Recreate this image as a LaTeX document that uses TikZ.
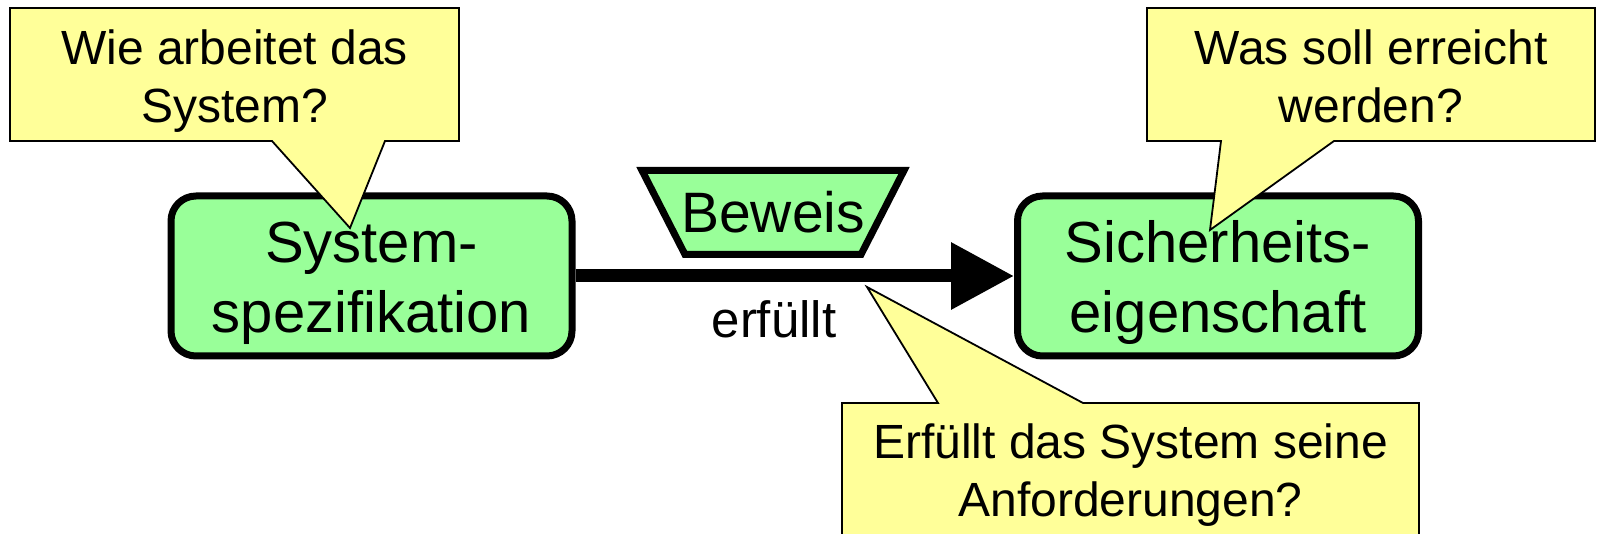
\documentclass[tikz,border=0pt]{standalone}
\usepackage{fontspec}
\setmainfont{Liberation Sans}
\usetikzlibrary{arrows.meta}
\definecolor{boxgreen}{HTML}{99FF99}
\definecolor{calloutyellow}{HTML}{FFFF99}
\begin{document}
\begin{tikzpicture}[x=1pt,y=-1pt,
  mainbox/.style={draw=black, fill=boxgreen, line width=7pt, rounded corners=25pt,
    minimum width=401pt, minimum height=160pt, inner sep=0pt},
  boxtext/.style={align=center, inner sep=0pt, font=\fontsize{58}{70}\selectfont},
  callout/.style={draw=black, fill=calloutyellow, line width=1.8pt, line join=miter},
  callouttext/.style={align=center, inner sep=0pt, font=\fontsize{48}{58}\selectfont},
  proof/.style={draw=black, fill=boxgreen, line width=7pt, line join=miter}]
\useasboundingbox (0,0) rectangle (1598,534);
% main boxes
\node[mainbox] (sys) at (371.5,276) {};
\node[boxtext] (sysT) at (371.5,283) {System-\\spezifikation};
\node[mainbox] (prop) at (1218,276) {};
\node[boxtext] (propT) at (1218,283) {Sicherheits-\\eigenschaft};
% arrow
\draw[line width=13pt, -{Triangle[length=63pt,width=64pt]}] (sys.east) -- (prop.west);
% proof trapezoid
\draw[proof] (642,170.5) -- (904,170.5) -- (861,254.5) -- (685,254.5) -- cycle;
\node[inner sep=0pt, anchor=base, font=\fontsize{57}{60}\selectfont] (beweis) at (773,233) {Beweis};
\node[inner sep=0pt, anchor=base, font=\fontsize{51}{55}\selectfont] (erf) at (774,338) {erfüllt};
% callouts
\draw[callout] (10,8) -- (459,8) -- (459,141) -- (385,141) -- (350,228) -- (272,141) -- (10,141) -- cycle;
\node[callouttext] (q1) at (234.5,81.5) {Wie arbeitet das\\System?};
\draw[callout] (1147,8) -- (1595,8) -- (1595,141) -- (1334,141) -- (1210,230) -- (1221,141) -- (1147,141) -- cycle;
\node[callouttext] (q2) at (1371,76.5) {Was soll erreicht\\werden?};
\fill[calloutyellow] (842,403) -- (938,403) -- (867,287) -- (1083,403) -- (1419,403) -- (1419,534) -- (842,534) -- cycle;
\draw[callout, fill=none] (842,534) -- (842,403) -- (938,403) -- (867,287) -- (1083,403) -- (1419,403) -- (1419,534);
\node[callouttext] (q3) at (1130.5,475.5) {Erfüllt das System seine\\Anforderungen?};
\end{tikzpicture}
\end{document}
